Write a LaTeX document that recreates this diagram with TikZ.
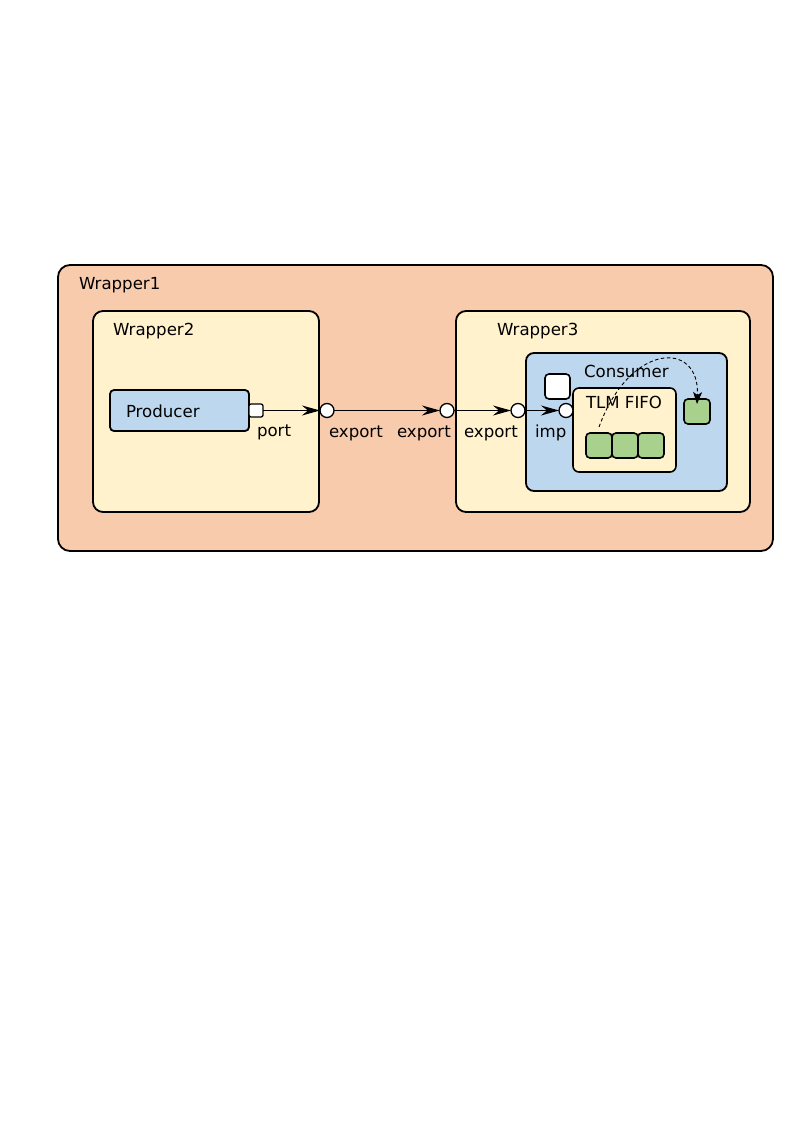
\documentclass[tikz,border=0pt]{standalone}
\usepackage{fontspec}
\setmainfont{DejaVu Sans}
\usetikzlibrary{arrows.meta}
\definecolor{peach}{HTML}{F8CBAD}
\definecolor{cream}{HTML}{FFF2CC}
\definecolor{paleblue}{HTML}{BDD7EE}
\definecolor{leaf}{HTML}{A9D18E}
\begin{document}
\begin{tikzpicture}[x=1pt,y=-1pt,
  every node/.style={inner sep=0pt,outer sep=0pt},
  box/.style={draw=black,line width=1.8pt,rounded corners=#1},
  box/.default=10pt,
  lbl/.style={anchor=base west,font=\fontsize{16.6}{18}\selectfont},
  ifc/.style={circle,draw=black,fill=white,line width=1.3pt,minimum size=14pt},
  cell/.style={draw=black,fill=leaf,line width=1.6pt,rounded corners=4pt,minimum width=26pt,minimum height=25pt},
  link/.style={draw=black,line width=1.2pt,-{Stealth[length=18pt,width=10pt,inset=6pt]}}]
\useasboundingbox (0,0) rectangle (794,1123);
\fill[white] (0,0) rectangle (794,1123);

% containers
\node[box=12pt,fill=peach,minimum width=715pt,minimum height=286pt] (w1) at (415.5,408) {};
\node[box,fill=cream,minimum width=226pt,minimum height=201pt] (w2) at (206,411.5) {};
\node[box,fill=cream,minimum width=294pt,minimum height=201pt] (w3) at (603,411.5) {};
\node[box=8pt,fill=paleblue,minimum width=201pt,minimum height=138pt] (cons) at (626.5,422) {};
\node[box=6pt,fill=cream,line width=1.6pt,minimum width=103pt,minimum height=84pt] (fifo) at (624.5,430) {};

% producer and its port
\node[box=4pt,fill=paleblue,minimum width=139pt,minimum height=41pt] (prod) at (179.5,410.5) {};
\node[draw=black,fill=white,line width=1.3pt,rounded corners=2pt,minimum width=14pt,minimum height=13pt] (port) at (256,410.5) {};

% interface circles
\node[ifc] (c1) at (327,410.5) {};
\node[ifc] (c2) at (447,410.5) {};
\node[ifc] (c3) at (518,410.5) {};
\node[ifc] (c4) at (566,410.5) {};

% consumer contents
\node[draw=black,fill=white,line width=1.6pt,rounded corners=4pt,minimum width=25pt,minimum height=25pt] (ws) at (557.5,386.5) {};
\node[cell] (g1) at (599,445.5) {};
\node[cell] (g2) at (625,445.5) {};
\node[cell] (g3) at (651,445.5) {};
\node[cell] (rg) at (697,411.5) {};
\coordinate (ds) at (599,427);

% connectors
\draw[link] (port.east) -- (c1.west);
\draw[link] (c1.east) -- (c2.west);
\draw[link] (c2.east) -- (c3.west);
\draw[link] (c3.east) -- (c4.west);
\draw[black,line width=0.9pt,dashed,dash pattern=on 3.5pt off 2.5pt,-{Stealth[length=12pt,width=9pt,inset=3pt]}]
  (ds) .. controls (630,342) and (700,340) .. ([yshift=-5pt]rg.north);

% labels
\node[lbl] (t1) at (79,289) {Wrapper1};
\node[lbl] (t2) at (113,335) {Wrapper2};
\node[lbl] (t3) at (497,335) {Wrapper3};
\node[lbl] (tp) at (126,417) {Producer};
\node[lbl] (tport) at (257,436) {port};
\node[lbl] (te1) at (329,437) {export};
\node[lbl] (te2) at (397,437) {export};
\node[lbl] (te3) at (464,437) {export};
\node[lbl] (timp) at (535,437) {imp};
\node[lbl] (tc) at (584,377) {Consumer};
\node[lbl] (tf) at (586,408) {TLM FIFO};
\end{tikzpicture}
\end{document}
